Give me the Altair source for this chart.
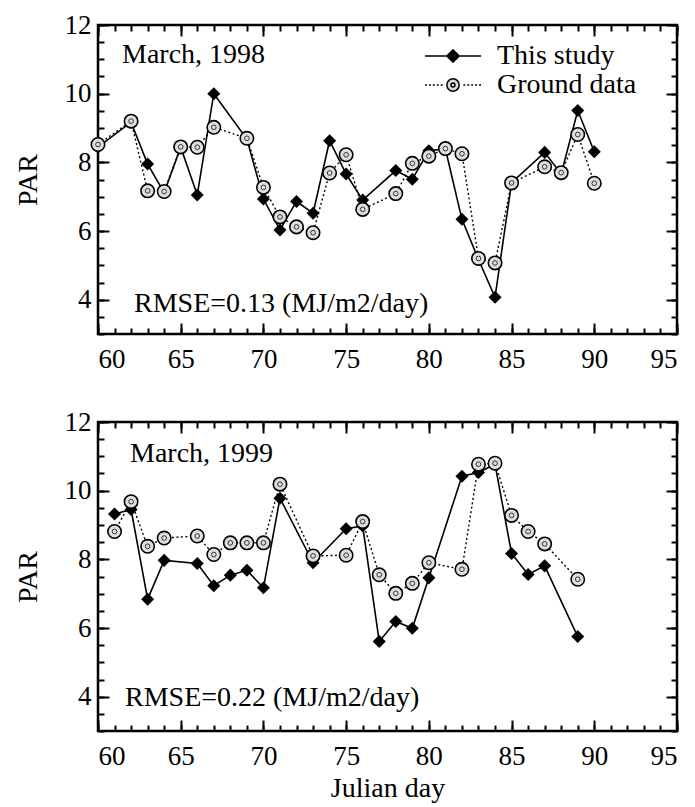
import altair as alt
import pandas as pd

# ---------------- data ----------------
top_days = [60, 62, 63, 64, 65, 66, 67, 69, 70, 71, 72, 73, 74, 75, 76, 78, 79, 80, 81, 82, 83, 84, 85, 87, 88, 89, 90]
top_study = [8.44, 9.17, 7.95, 7.12, 8.44, 7.05, 10.0, 8.68, 6.93, 6.03, 6.86, 6.52, 8.63, 7.66, 6.9, 7.76, 7.51, 8.34, 8.39, 6.34, 5.17, 4.07, 7.41, 8.29, 7.66, 9.51, 8.31]
top_ground = [8.52, 9.2, 7.17, 7.15, 8.45, 8.44, 9.02, 8.7, 7.27, 6.41, 6.12, 5.95, 7.69, 8.22, 6.63, 7.09, 7.97, 8.18, 8.4, 8.25, 5.2, 5.07, 7.4, 7.87, 7.7, 8.81, 7.39]

bottom_days = [61, 62, 63, 64, 66, 67, 68, 69, 70, 71, 73, 75, 76, 77, 78, 79, 80, 82, 83, 84, 85, 86, 87, 89]
bottom_study = [9.32, 9.45, 6.84, 7.97, 7.88, 7.23, 7.54, 7.68, 7.17, 9.78, 7.9, 8.89, 8.97, 5.61, 6.19, 5.99, 7.46, 10.42, 10.53, 10.77, 8.17, 7.56, 7.81, 5.75]
bottom_ground = [8.81, 9.68, 8.38, 8.62, 8.68, 8.14, 8.48, 8.48, 8.48, 10.19, 8.1, 8.12, 9.1, 7.55, 7.01, 7.3, 7.9, 7.71, 10.77, 10.8, 9.28, 8.81, 8.45, 7.42]

series_names = ["This study", "Ground data"]
top_month = "March, 1998"
top_rmse = "RMSE=0.13 (MJ/m2/day)"
bottom_month = "March, 1999"
bottom_rmse = "RMSE=0.22 (MJ/m2/day)"

x_major = [60, 65, 70, 75, 80, 85, 90, 95]
x_minor = list(range(60, 96))
y_major = [4, 6, 8, 10, 12]
y_minor = [3.0, 3.5, 4.0, 4.5, 5.0, 5.5, 6.0, 6.5, 7.0, 7.5, 8.0, 8.5, 9.0, 9.5, 10.0, 10.5, 11.0, 11.5, 12.0]

# ---------------- style ----------------
FONT = "Liberation Serif"
W, H = 579, 309
MAJ, MIN = 11, 6

# legend symbols: line + marker, drawn in [-2, 2] so the row height stays small
STUDY_SYMBOL = "M-2,0L2,0M0,-0.44L0.44,0L0,0.44L-0.44,0Z"
GROUND_SYMBOL = (
    "M-2,0L-1.86,0M-1.72,0L-1.58,0M-1.44,0L-1.3,0M-1.16,0L-1.02,0M-0.88,0L-0.74,0"
    "M0.74,0L0.88,0M1.02,0L1.16,0M1.3,0L1.44,0M1.58,0L1.72,0M1.86,0L2,0"
    "M0.44,0A0.44,0.44 0 1,1 -0.44,0A0.44,0.44 0 1,1 0.44,0Z"
    "M0.14,0A0.14,0.14 0 1,1 -0.14,0A0.14,0.14 0 1,1 0.14,0Z"
)


def make_panel(days, study, ground, month_text, rmse_text, month_xy, rmse_xy, with_legend, xtitle):
    df = pd.DataFrame({"day": days, "study": study, "ground": ground})
    xs = alt.Scale(domain=[60, 95], nice=False, zero=False)
    ys = alt.Scale(domain=[3, 12], nice=False, zero=False)
    base = alt.Chart(df)

    if xtitle:
        x_bottom_major = alt.Axis(orient="bottom", values=x_major, tickSize=MAJ, offset=-MAJ,
                                  labelPadding=12, title=xtitle, titlePadding=5)
    else:
        x_bottom_major = alt.Axis(orient="bottom", values=x_major, tickSize=MAJ, offset=-MAJ,
                                  labelPadding=12, title=None)
    x_bottom_minor = alt.Axis(orient="bottom", values=x_minor, tickSize=MIN, offset=-MIN, labels=False, title=None)
    x_top_major = alt.Axis(orient="top", values=x_major, tickSize=MAJ, offset=-MAJ, labels=False, title=None)
    x_top_minor = alt.Axis(orient="top", values=x_minor, tickSize=MIN, offset=-MIN, labels=False, title=None)

    y_left_major = alt.Axis(orient="left", values=y_major, tickSize=MAJ, offset=-MAJ, labelPadding=7,
                            title="PAR", titlePadding=22)
    y_left_minor = alt.Axis(orient="left", values=y_minor, tickSize=MIN, offset=-MIN, labels=False, title=None)
    y_right_major = alt.Axis(orient="right", values=y_major, tickSize=MAJ, offset=-MAJ, labels=False, title=None)
    y_right_minor = alt.Axis(orient="right", values=y_minor, tickSize=MIN, offset=-MIN, labels=False, title=None)

    line_study = base.mark_line(color="black", strokeWidth=1.6).encode(
        x=alt.X("day:Q", scale=xs, axis=x_bottom_major),
        y=alt.Y("study:Q", scale=ys, axis=y_left_major),
    )
    pts_study = base.mark_point(shape="diamond", filled=True, color="black", size=170, opacity=1).encode(
        x=alt.X("day:Q", scale=xs, axis=x_bottom_minor),
        y=alt.Y("study:Q", scale=ys, axis=y_left_minor),
    )
    line_ground = base.mark_line(color="black", strokeWidth=1.4, strokeDash=[2, 2.5]).encode(
        x=alt.X("day:Q", scale=xs, axis=x_top_major),
        y=alt.Y("ground:Q", scale=ys, axis=y_right_major),
    )
    pts_ground = base.mark_point(shape="circle", filled=False, fill="#dedede", fillOpacity=1,
                                 stroke="black", strokeWidth=1.6, size=180, opacity=1).encode(
        x=alt.X("day:Q", scale=xs, axis=x_top_minor),
        y=alt.Y("ground:Q", scale=ys, axis=y_right_minor),
    )
    pts_ground_inner = base.mark_point(shape="circle", filled=False, stroke="#333333", strokeWidth=1,
                                       size=22, opacity=1).encode(
        x=alt.X("day:Q", scale=xs, axis=None),
        y=alt.Y("ground:Q", scale=ys, axis=None),
    )

    month = alt.Chart(pd.DataFrame({"t": [month_text]})).mark_text(
        font=FONT, fontSize=28, align="left", baseline="alphabetic", color="black"
    ).encode(x=alt.value(month_xy[0]), y=alt.value(month_xy[1]), text="t:N")
    rmse = alt.Chart(pd.DataFrame({"t": [rmse_text]})).mark_text(
        font=FONT, fontSize=28, align="left", baseline="alphabetic", color="black"
    ).encode(x=alt.value(rmse_xy[0]), y=alt.value(rmse_xy[1]), text="t:N")

    layers = [line_study, pts_study, line_ground, pts_ground, pts_ground_inner, month, rmse]

    if with_legend:
        long_df = pd.DataFrame({
            "day": days + days,
            "value": study + ground,
            "series": [series_names[0]] * len(days) + [series_names[1]] * len(days),
        })
        leg = alt.Legend(orient="none", legendX=340, legendY=16, title=None,
                         labelFont=FONT, labelFontSize=28, labelColor="black",
                         symbolSize=784, labelOffset=29, rowPadding=-2, padding=0,
                         symbolStrokeWidth=1.5)
        legend_layer = alt.Chart(long_df).transform_filter("datum.day < 0").mark_point(
            filled=True, opacity=1, strokeWidth=1.5
        ).encode(
            x=alt.X("day:Q", scale=xs, axis=None),
            y=alt.Y("value:Q", scale=ys, axis=None),
            shape=alt.Shape("series:N", scale=alt.Scale(domain=series_names,
                                                        range=[STUDY_SYMBOL, GROUND_SYMBOL]), legend=leg),
            fill=alt.Fill("series:N", scale=alt.Scale(domain=series_names,
                                                      range=["black", "#dedede"]), legend=leg),
            stroke=alt.Stroke("series:N", scale=alt.Scale(domain=series_names,
                                                          range=["black", "black"]), legend=leg),
        )
        layers.append(legend_layer)

    return alt.layer(*layers).resolve_axis(x="independent", y="independent").properties(width=W, height=H)


top = make_panel(top_days, top_study, top_ground, top_month, top_rmse,
                 (24, 38), (36, 287), True, None)
bottom = make_panel(bottom_days, bottom_study, bottom_ground, bottom_month, bottom_rmse,
                    (32, 40), (27, 284), False, "Julian day")

chart = alt.vconcat(top, bottom, spacing=32).configure_view(
    stroke="black", strokeWidth=2.5
).configure_axis(
    labelFont=FONT, titleFont=FONT, labelColor="black", titleColor="black",
    tickColor="black", tickWidth=2, grid=False, domain=False,
    titleFontWeight="normal", labelFontSize=27, titleFontSize=28,
).properties(
    padding={"left": 12, "top": 9, "right": 5, "bottom": 2}
)

chart.save("out.html", embed_options={"renderer": "svg", "actions": False})
